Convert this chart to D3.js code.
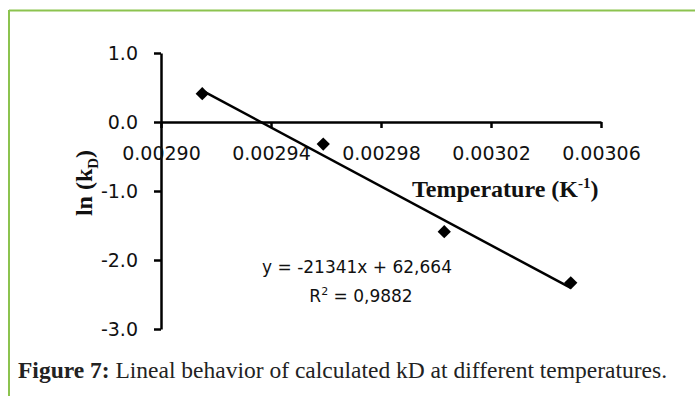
<!DOCTYPE html>
<html>
<head>
<meta charset="utf-8">
<script src="https://cdn.jsdelivr.net/npm/d3@7"></script>
<style>
  html, body { margin: 0; padding: 0; background: #fff; }
  svg { display: block; }
</style>
</head>
<body>
<svg id="chart" width="695" height="396"></svg>
<script>
// ---- data ----
const invTemperature = [0.002915, 0.002959, 0.003003, 0.003049];
const lnKD = [0.41, -0.32, -1.59, -2.33];
const trendSlope = -21341;
const trendIntercept = 62.664;
const xTicks = [0.00290, 0.00294, 0.00298, 0.00302, 0.00306];
const xTickLabels = ["0.00290", "0.00294", "0.00298", "0.00302", "0.00306"];
const yTicks = [1, 0, -1, -2, -3];
const yTickLabels = ["1.0", "0.0", "-1.0", "-2.0", "-3.0"];
const equationText = "y = -21341x + 62,664";
const r2Value = "0,9882";
const captionBold = "Figure 7:";
const captionRest = " Lineal behavior of calculated kD at different temperatures.";

const svg = d3.select("#chart");

// frame (green border)
svg.append("line").attr("x1", 9).attr("x2", 695).attr("y1", 10.5).attr("y2", 10.5)
  .attr("stroke", "#8cc34f").attr("stroke-width", 2);
svg.append("line").attr("x1", 9).attr("x2", 9).attr("y1", 10).attr("y2", 396)
  .attr("stroke", "#8cc34f").attr("stroke-width", 2);

const x = d3.scaleLinear().domain([0.00290, 0.00306]).range([161, 601]);
const y = d3.scaleLinear().domain([-3, 1]).range([329, 53]);

const tickFont = "'DejaVu Sans', sans-serif";

// y axis
const yAxis = d3.axisLeft(y).tickValues(yTicks)
  .tickFormat((d, i) => yTickLabels[i]).tickSize(7).tickSizeOuter(0).tickPadding(16);
const gy = svg.append("g").attr("transform", `translate(${x(0.00290)},0)`).call(yAxis);
gy.select(".domain").attr("stroke", "#000").attr("stroke-width", 2.5);
gy.selectAll(".tick line").attr("stroke", "#000").attr("stroke-width", 2.5);
gy.selectAll(".tick text").attr("font-family", tickFont).attr("font-size", 19).attr("fill", "#111");

// x axis at y = 0
const xAxis = d3.axisBottom(x).tickValues(xTicks)
  .tickFormat((d, i) => xTickLabels[i]).tickSize(6).tickSizeOuter(0);
const gx = svg.append("g").attr("transform", `translate(0,${y(0)})`).call(xAxis);
gx.select(".domain").attr("stroke", "#000").attr("stroke-width", 2.5);
gx.selectAll(".tick line").attr("stroke", "#000").attr("stroke-width", 2.5);
gx.selectAll(".tick text").attr("font-family", tickFont).attr("font-size", 19).attr("fill", "#111")
  .attr("y", 38).attr("dy", 0);

// trendline
const x0 = invTemperature[0], x1 = invTemperature[invTemperature.length - 1];
svg.append("line")
  .attr("x1", x(x0)).attr("y1", y(trendSlope * x0 + trendIntercept))
  .attr("x2", x(x1)).attr("y2", y(trendSlope * x1 + trendIntercept))
  .attr("stroke", "#000").attr("stroke-width", 2.5);

// markers (diamonds)
const pts = invTemperature.map((v, i) => [v, lnKD[i]]);
svg.append("g").selectAll("path").data(pts).join("path")
  .attr("d", d3.symbol(d3.symbolSquare, 88))
  .attr("transform", d => `translate(${x(d[0])},${y(d[1])}) rotate(45)`)
  .attr("fill", "#000");

// axis titles
const tt = svg.append("text").attr("x", 412).attr("y", 197)
  .attr("font-family", "'Liberation Serif', 'Times New Roman', serif")
  .attr("font-weight", "bold").attr("font-size", 24).attr("fill", "#111");
tt.append("tspan").text("Temperature (K");
tt.append("tspan").text("-1").attr("font-size", 15).attr("dy", -9);
tt.append("tspan").text(")").attr("dy", 9);

const yt = svg.append("text")
  .attr("transform", "translate(92,183) rotate(-90)")
  .attr("text-anchor", "middle")
  .attr("font-family", "'Liberation Serif', 'Times New Roman', serif")
  .attr("font-weight", "bold").attr("font-size", 24).attr("fill", "#111");
yt.append("tspan").text("ln (k");
yt.append("tspan").text("D").attr("font-size", 15).attr("dy", 6);
yt.append("tspan").text(")").attr("dy", -6);

// equation
svg.append("text").attr("x", 357).attr("y", 273).attr("text-anchor", "middle")
  .attr("font-family", tickFont).attr("font-size", 17).attr("fill", "#111")
  .text(equationText);
const r2 = svg.append("text").attr("x", 361).attr("y", 302).attr("text-anchor", "middle")
  .attr("font-family", tickFont).attr("font-size", 17).attr("fill", "#111");
r2.append("tspan").text("R");
r2.append("tspan").text("2").attr("font-size", 11).attr("dy", -7);
r2.append("tspan").text(" = " + r2Value).attr("dy", 7);

// caption
const cap = svg.append("text").attr("x", 18).attr("y", 378)
  .attr("font-family", "'Liberation Serif', 'Times New Roman', serif")
  .attr("font-size", 23.5).attr("fill", "#222");
cap.append("tspan").text(captionBold).attr("font-weight", "bold");
cap.append("tspan").text(captionRest);
</script>
</body>
</html>
